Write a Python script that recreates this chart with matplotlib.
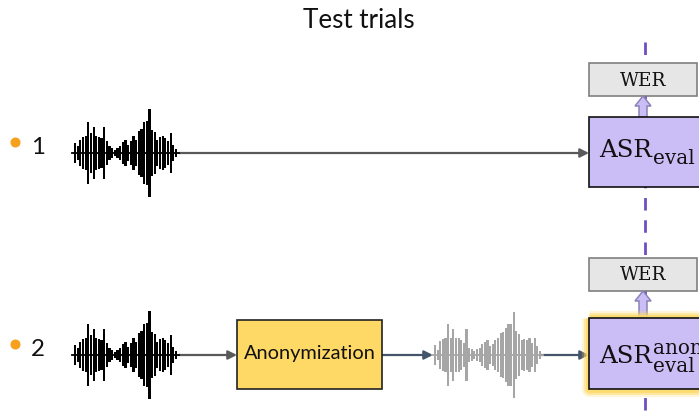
import matplotlib
matplotlib.use("Agg")
import matplotlib.pyplot as plt
import matplotlib.patches as mpatches
import numpy as np

# ---- data ----
title = "Test trials"
trial_labels = ["1", "2"]
box_anon_label = "Anonymization"
metric_label = "WER"
# waveform half-amplitudes (px)
wave_black = [10, 6.7, 13, 16, 17, 31, 20, 26, 17, 16, 15, 26, 12, 7, 5, 3, 5, 7, 11,
              13, 8, 12, 17, 13, 22, 24, 31, 32, 44, 23, 21, 13, 16, 17, 15, 12, 20, 8, 4]
wave_gray = [10, 5, 14, 16, 17, 31, 17, 26, 17, 17, 15, 12, 26, 7, 6, 4, 6, 7, 11, 13,
             15, 9, 11, 15, 17, 22, 23, 27, 31, 31, 43, 24, 21, 15, 16, 15, 17, 12, 17, 9, 4]

W, H = 699, 416
fig = plt.figure(figsize=(W / 100, H / 100), dpi=100)
ax = fig.add_axes([0, 0, 1, 1])
ax.set_xlim(0, W)
ax.set_ylim(H, 0)
ax.axis("off")

SANS = ["Lato", "DejaVu Sans"]
SERIF = ["DejaVu Serif"]
LAV = "#CBBDF6"
ORANGE = "#F7A01C"

def px(p):
    return p * 0.72

def waveform(amps, x0, x1, yc, color, zorder=3):
    xs = np.linspace(x0, x1, len(amps))
    a = np.array(amps, dtype=float)
    ax.bar(xs, 2 * a, bottom=yc - a, width=2.2, color=color, linewidth=0, zorder=zorder)
    ax.plot([x0 - 3, x1 + 3], [yc, yc], color=color, lw=1.3, zorder=zorder)

def arrow(x0, x1, y, color):
    ax.annotate("", xy=(x1, y), xytext=(x0, y),
                arrowprops=dict(arrowstyle="-|>", color=color, lw=1.6,
                                mutation_scale=13, shrinkA=0, shrinkB=0),
                zorder=2)

# title
ax.text(359, 20, title, ha="center", va="center", fontsize=px(26), family=SANS, color="#111111")

# dashed vertical line
ax.plot([645, 645], [42, 416], color="#6E4EC0", lw=2, dashes=(4.5, 3.5), zorder=1)

rows_y = [153, 355]
for i, yc in enumerate(rows_y):
    ax.plot(15, yc - 11, "o", color=ORANGE, ms=6.2, zorder=3)
    ax.text(38, yc - 6, trial_labels[i], ha="center", va="center", fontsize=px(24),
            family=SANS, color="#111111")
    waveform(wave_black, 75, 176, yc, "black")

# row 1 arrow
arrow(179, 589, rows_y[0], "#595959")
# row 2 arrows
arrow(179, 237, rows_y[1], "#595959")
ax.add_patch(mpatches.Rectangle((237, 320), 145, 69, fc="#FFD966", ec="#222222", lw=1.2, zorder=3))
ax.text(309.5, 353, box_anon_label, ha="center", va="center", fontsize=px(20), family=SANS,
        color="#111111", zorder=4)
arrow(382, 433, rows_y[1], "#44546A")
waveform(wave_gray, 435, 540, rows_y[1], "#A6A6A6")
arrow(541, 589, rows_y[1], "#44546A")

# WER boxes and ASR boxes
wer_boxes = [(63, 96), (258, 291)]
asr_boxes = [(117, 187), (318, 389)]
for i in range(2):
    t, b = wer_boxes[i]
    ax.add_patch(mpatches.Rectangle((589, t), 108, b - t, fc="#E7E6E6", ec="#7F7F7F", lw=1.2, zorder=3))
    ax.text(643, (t + b) / 2 + 1, metric_label, ha="center", va="center", fontsize=px(18.5),
            family=SERIF, color="#111111", zorder=4)
    at, ab = asr_boxes[i]
    # up block arrow
    ax.add_patch(mpatches.FancyArrow(643, at, 0, -(at - b), width=8, head_width=16,
                                     head_length=10, length_includes_head=True,
                                     fc=LAV, ec="#8A84B8", lw=1.1, zorder=3))
    if i == 1:
        for lw, al in [(11, 0.25), (8, 0.45), (5, 0.8)]:
            ax.add_patch(mpatches.Rectangle((589, at), 140, ab - at, fc="none", ec="#FFD966",
                                            lw=lw, alpha=al, zorder=3, joinstyle="round"))
    ax.add_patch(mpatches.Rectangle((589, at), 140, ab - at, fc=LAV, ec="#111111", lw=1.2, zorder=3))

# ASR labels
fig.canvas.draw()
r = fig.canvas.get_renderer()

def asr_label(x, y_base, sub_base, sup_base=None):
    t = ax.text(x, y_base, "ASR", ha="left", va="baseline", fontsize=px(24.5), family=SERIF,
                color="#111111", zorder=5)
    bb = t.get_window_extent(renderer=r)
    x_end = ax.transData.inverted().transform((bb.x1, bb.y0))[0]
    ax.text(x_end + 1, sub_base, "eval", ha="left", va="baseline", fontsize=px(20),
            family=SERIF, color="#111111", zorder=5)
    if sup_base is not None:
        ax.text(x_end + 1, sup_base, "anon", ha="left", va="baseline", fontsize=px(20),
                family=SERIF, color="#111111", zorder=5)

asr_label(599, 157, 164.5)
asr_label(599, 363, 372, 354)

fig.savefig("out.png", dpi=100)
